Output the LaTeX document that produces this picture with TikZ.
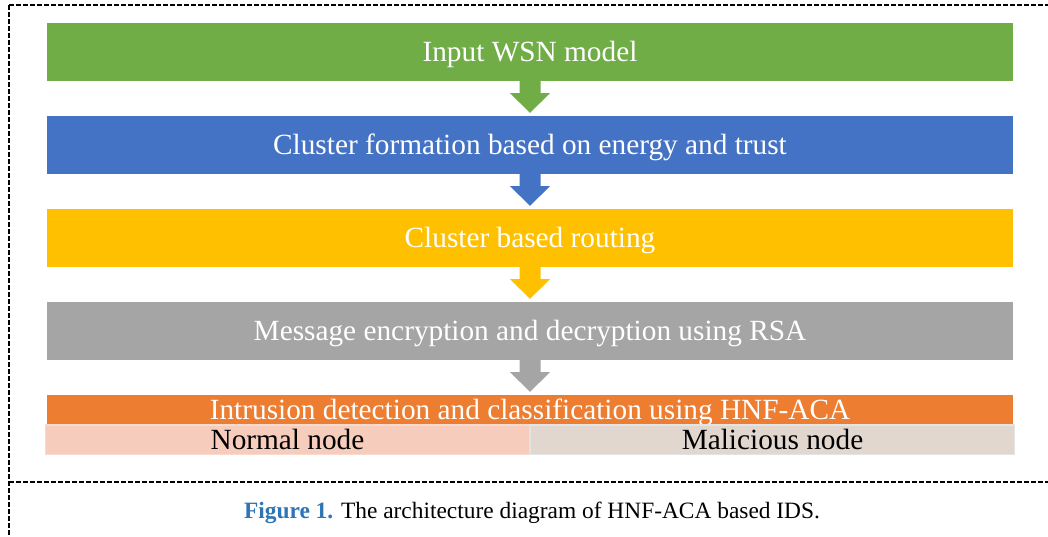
\documentclass[tikz,border=0pt]{standalone}
\usepackage{fontspec}
\setmainfont{Liberation Serif}
\usetikzlibrary{calc}
\definecolor{cgreen}{HTML}{70AD47}
\definecolor{cblue}{HTML}{4472C4}
\definecolor{cyellow}{HTML}{FFC000}
\definecolor{cgray}{HTML}{A5A5A5}
\definecolor{corange}{HTML}{ED7D31}
\definecolor{cpink}{HTML}{F6CDBD}
\definecolor{cpinkb}{HTML}{F9DACE}
\definecolor{cbeige}{HTML}{E2D7CF}
\definecolor{cbeigeb}{HTML}{E4E4E4}
\definecolor{capblue}{HTML}{2F75B5}
\newcommand\myarrow[3]{%
  \fill[#1] ($(#2.south)+(-10.5,0)$) -- ($(#2.south)+(10.5,0)$)
    -- ($(#2.south)+(10.5,12)$) -- ($(#2.south)+(20,12)$)
    -- ($(#3.north)+(0,-3)$)
    -- ($(#2.south)+(-20,12)$) -- ($(#2.south)+(-10.5,12)$) -- cycle;}
\begin{document}
\begin{tikzpicture}[x=1pt,y=-1pt,
  stage/.style={rectangle, fill=#1, inner sep=0pt, minimum width=966pt,
    minimum height=58pt, text=white, font=\fontsize{29.3}{29.3}\selectfont,
    text height=19pt, text depth=0pt},
  cell/.style={rectangle, inner sep=0pt, minimum width=484pt, minimum height=29.5pt,
    text=black, font=\fontsize{29.3}{29.3}\selectfont, text height=19pt, text depth=0pt,
    line width=1.5pt},
  frame/.style={line width=1.6pt, dash pattern=on 5pt off 2pt, black}]
\useasboundingbox (0,0) rectangle (1048,537);
\draw[frame] (9,5) -- (1048,5);
\draw[frame] (9,5) -- (9,537);
\draw[frame] (9,482) -- (1048,482);
\node[stage=cgreen] (s1) at (530,52) {Input WSN model};
\node[stage=cblue] (s2) at (530,145) {Cluster formation based on energy and trust};
\node[stage=cyellow] (s3) at (530,238) {Cluster based routing};
\node[stage=cgray] (s4) at (530,331) {Message encryption and decryption using RSA};
\node[stage=corange, minimum height=29pt] (s5) at (530,409.5) {Intrusion detection and classification using HNF-ACA};
\node[cell, fill=cpink, draw=cpinkb] (n1) at (287.5,439.5) {Normal node};
\node[cell, fill=cbeige, draw=cbeigeb] (n2) at (772.5,439.5) {Malicious node};
\myarrow{cgreen}{s1}{s2}
\myarrow{cblue}{s2}{s3}
\myarrow{cyellow}{s3}{s4}
\myarrow{cgray}{s4}{s5}
\node[anchor=base, inner sep=0pt, font=\fontsize{23.4}{23.4}\selectfont] (cap) at (532,518)
  {\textcolor{capblue}{\textbf{Figure 1.}} The architecture diagram of HNF-ACA based IDS.};
\end{tikzpicture}
\end{document}
